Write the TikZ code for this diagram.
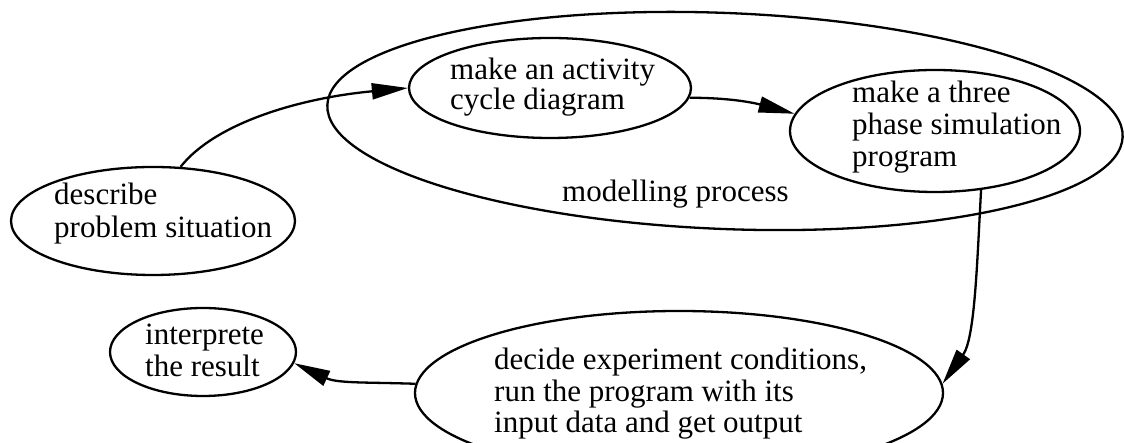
\documentclass[tikz,border=0pt]{standalone}
\usepackage{fontspec}
\setmainfont{Liberation Serif}
\usetikzlibrary{shapes.geometric,arrows.meta}
\begin{document}
\begin{tikzpicture}[x=1pt,y=1pt,
  bubble/.style={draw, ellipse, line width=2.3pt, inner sep=0pt},
  lbl/.style={anchor=base west, align=left, inner sep=0pt, font=\fontsize{31}{32}\selectfont},
  conn/.style={line width=2.3pt, -{Triangle[length=36pt,width=16pt]}}]
\useasboundingbox (0,0) rectangle (1124,443);
\clip (0,0) rectangle (1124,443);
% ellipses
\node[bubble, minimum width=796pt, minimum height=216pt, rotate=-2.3] (model) at (725,322) {};
\node[bubble, minimum width=284pt, minimum height=108pt] (describe) at (153,222) {};
\node[bubble, minimum width=282pt, minimum height=100pt] (activity) at (550,355) {};
\node[bubble, minimum width=290pt, minimum height=122pt] (three) at (935,312) {};
\node[bubble, minimum width=186pt, minimum height=88pt] (interp) at (203,91) {};
\node[bubble, minimum width=528pt, minimum height=164pt] (decide) at (679,50) {};
% texts (positioned at the baseline of the last line)
\node[lbl, font=\fontsize{31}{33}\selectfont] (tdescribe) at (54,205) {describe\\problem situation};
\node[lbl, font=\fontsize{31}{30}\selectfont] (tactivity) at (450,333) {make an activity\\cycle diagram};
\node[lbl] (tthree) at (852,276) {make a three\\phase simulation\\program};
\node[lbl] (tmodel) at (562,241) {modelling process};
\node[lbl] (tinterp) at (145,66) {interprete\\the result};
\node[lbl, font=\fontsize{31}{31.5}\selectfont] (tdecide) at (494,10) {decide experiment conditions,\\run the program with its\\input data and get output};
% connectors
\draw[conn] (describe.63) .. controls (215,320) and (300,345) .. (activity.west);
\draw[conn] (activity.-4) to[out=0, in=165] (three.173);
\draw[conn] (three.-52) .. controls (977,180) and (975,105) .. (decide.2);
\draw[conn] (decide.178) to[out=178, in=-25] (interp.-7);
\end{tikzpicture}
\end{document}
